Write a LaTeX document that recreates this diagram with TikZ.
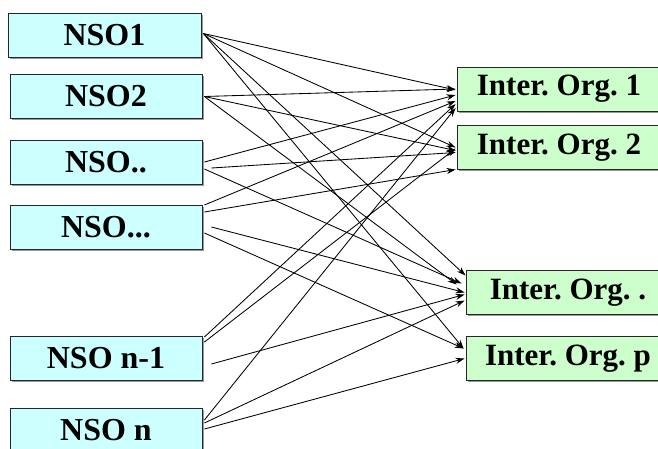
\documentclass[tikz,border=0pt]{standalone}
\usepackage{fontspec}
\setmainfont{Liberation Serif}
\usepackage{tikz}
\usetikzlibrary{arrows.meta,shadows}
\frenchspacing
\definecolor{nsofill}{HTML}{CCFFFF}
\definecolor{orgfill}{HTML}{CCFFCC}

\tikzset{
  nso/.style={draw=black!85, line width=0.8pt, fill=nsofill, minimum width=192pt, minimum height=44pt, inner sep=0pt,
    font=\fontsize{32}{33}\selectfont\bfseries,
    drop shadow={shadow xshift=1.5pt, shadow yshift=-1.5pt, fill=black!40, opacity=1}},
  org/.style={nso, fill=orgfill, minimum width=204pt, font=\fontsize{31}{32}\selectfont\bfseries},
  link/.style={-{Stealth[length=9pt,width=6pt]}, line width=0.85pt}
}

\begin{document}
\begin{tikzpicture}[x=1pt, y=-1pt]
\useasboundingbox (0,0) rectangle (658,448);
\clip (0,0) rectangle (658,448);
\node[nso, minimum width=193pt] (nso1) at (104.5,35.5) {NSO1};
\node[nso] (nso2) at (106,96.5) {NSO2};
\node[nso] (nso3) at (106,162) {NSO..};
\node[nso] (nso4) at (106,227) {NSO...};
\node[nso] (nso5) at (106,358) {NSO n-1};
\node[nso] (nso6) at (106,430) {NSO n};
\node[org] (io1) at (559,89) {Inter. Org. 1};
\node[org] (io2) at (559,147.5) {Inter. Org. 2};
\node[org] (io3) at (568,292.5) {Inter. Org. .};
\node[org] (io4) at (568,358.5) {Inter. Org. p};
\draw[link] ([xshift=2pt,yshift=2pt]nso1.east) -- ([xshift=-1pt,yshift=-1pt]io1.west);
\draw[link] ([xshift=2pt,yshift=2pt]nso1.east) -- ([xshift=-1pt]io2.west);
\draw[link] ([xshift=2pt,yshift=2pt]nso1.east) -- ([yshift=17pt]io3.west);
\draw[link] ([xshift=2pt,yshift=2pt]nso1.east) -- ([xshift=-2pt,yshift=10pt]io4.west);
\draw[link] ([xshift=2pt]nso2.east) -- ([xshift=-1pt]io1.west);
\draw[link] ([xshift=2pt]nso2.east) -- ([xshift=-1pt,yshift=-3pt]io2.west);
\draw[link] ([xshift=2pt]nso2.east) -- ([xshift=-9pt,yshift=8pt]io3.west);
\draw[link] ([xshift=2pt]nso3.east) -- ([xshift=-1pt,yshift=-6pt]io1.west);
\draw[link] ([xshift=9pt,yshift=-6pt]nso3.east) -- ([xshift=-1pt,yshift=-5pt]io2.west);
\draw[link] ([xshift=2pt,yshift=-7pt]nso3.east) -- ([xshift=-4pt,yshift=9pt]io3.west);
\draw[link] ([xshift=2pt,yshift=22pt]nso4.east) -- ([xshift=-1pt,yshift=-12pt]io1.west);
\draw[link] ([xshift=2pt,yshift=15pt]nso4.east) -- ([xshift=-1pt,yshift=-22pt]io2.west);
\draw[link] ([xshift=9pt]nso4.east) -- ([xshift=-1pt]io3.west);
\draw[link] ([xshift=2pt,yshift=-6pt]nso4.east) -- ([xshift=-2pt,yshift=10pt]io4.west);
\draw[link] ([xshift=2pt,yshift=21pt]nso5.east) -- ([xshift=-1pt,yshift=-15pt]io1.west);
\draw[link] ([xshift=2pt,yshift=16pt]nso5.east) -- ([xshift=-1pt,yshift=-1pt]io2.west);
\draw[link] ([xshift=9pt,yshift=-6pt]nso5.east) -- ([xshift=-1pt,yshift=-2pt]io3.west);
\draw[link] ([xshift=2pt,yshift=10pt]nso6.east) -- ([xshift=-1pt,yshift=-19pt]io1.west);
\draw[link] ([xshift=2pt,yshift=7pt]nso6.east) -- ([xshift=-1pt,yshift=-8pt]io3.west);
\draw[link] ([xshift=2pt,yshift=1pt]nso6.east) -- ([xshift=-1pt]io4.west);
\end{tikzpicture}
\end{document}
